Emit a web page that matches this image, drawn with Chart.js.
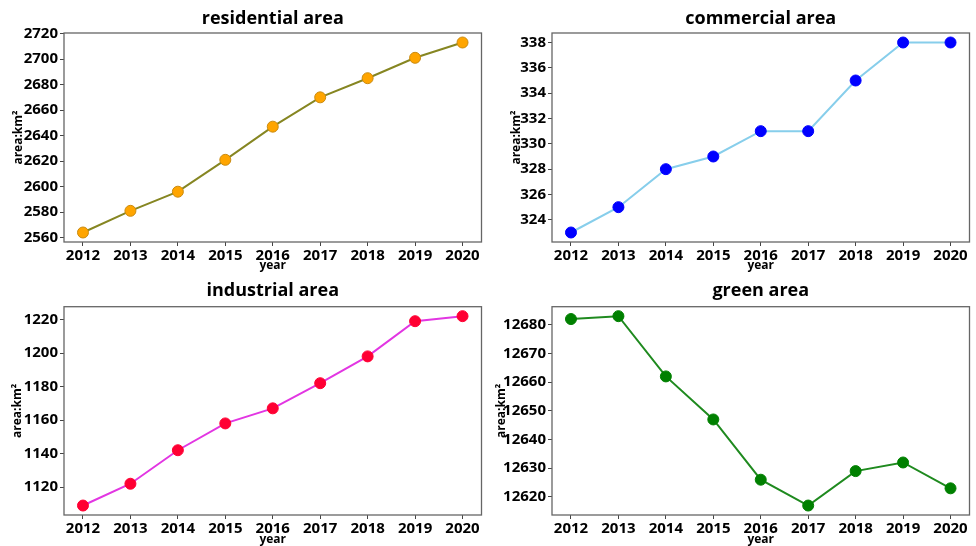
<!DOCTYPE html>
<html>
<head>
<meta charset="utf-8">
<script src="https://cdn.jsdelivr.net/npm/chart.js@4.4.1/dist/chart.umd.min.js"></script>
<style>
  html, body { margin: 0; padding: 0; background: #fff; }
  body { width: 976px; height: 546px; position: relative; overflow: hidden; }
  canvas { position: absolute; }
</style>
</head>
<body>
<canvas id="resChart"   width="488" height="272" style="left:0;top:0"></canvas>
<canvas id="comChart"   width="488" height="272" style="left:488px;top:0"></canvas>
<canvas id="indChart"   width="488" height="274" style="left:0;top:272px"></canvas>
<canvas id="greenChart" width="488" height="274" style="left:488px;top:272px"></canvas>
<script>
// ===== data =====
const years = [2012, 2013, 2014, 2015, 2016, 2017, 2018, 2019, 2020];

const residential = [2564, 2581, 2596, 2621, 2647, 2670, 2685, 2701, 2713];
const commercial  = [323, 325, 328, 329, 331, 331, 335, 338, 338];
const industrial  = [1109, 1122, 1142, 1158, 1167, 1182, 1198, 1219, 1222];
const green       = [12682, 12683, 12662, 12647, 12626, 12617, 12629, 12632, 12623];

// ===== tick labels =====
const resTicks   = [2560, 2580, 2600, 2620, 2640, 2660, 2680, 2700, 2720];
const comTicks   = [324, 326, 328, 330, 332, 334, 336, 338];
const indTicks   = [1120, 1140, 1160, 1180, 1200, 1220];
const greenTicks = [12620, 12630, 12640, 12650, 12660, 12670, 12680];

Chart.defaults.font.family = '"Open Sans", "Noto Sans", sans-serif';
Chart.defaults.font.weight = 'bold';
Chart.defaults.color = '#000';

// draw all four spines like matplotlib
const framePlugin = {
  id: 'frame',
  afterDraw(chart) {
    const { ctx, chartArea: a } = chart;
    ctx.save();
    ctx.strokeStyle = '#666';
    ctx.lineWidth = 1.3;
    ctx.strokeRect(a.left, a.top, a.right - a.left, a.bottom - a.top);
    ctx.restore();
  }
};

function makeChart(id, o) {
  const lo = Math.min(...o.values), hi = Math.max(...o.values);
  const m = (hi - lo) * 0.05;

  return new Chart(document.getElementById(id), {
    type: 'line',
    data: {
      datasets: [{
        data: years.map((y, i) => ({ x: y, y: o.values[i] })),
        borderColor: o.line,
        borderWidth: 2,
        pointRadius: 5.5,
        pointBackgroundColor: o.point,
        pointBorderColor: o.pointEdge || o.point,
        pointBorderWidth: 1,
        tension: 0
      }]
    },
    options: {
      responsive: false,
      animation: false,
      layout: { padding: { left: 0, right: o.rightPad, top: 0, bottom: 0 } },
      plugins: {
        legend: { display: false },
        tooltip: { enabled: false },
        title: {
          display: true,
          text: o.title,
          fullSize: false,
          font: { size: 18, weight: 'bold' },
          padding: { top: 8, bottom: o.titleBottom }
        }
      },
      scales: {
        x: {
          type: 'linear',
          min: 2011.6,
          max: 2020.4,
          afterBuildTicks: s => { s.ticks = years.map(v => ({ value: v })); },
          afterFit: s => { s.height = o.xHeight; },
          ticks: { font: { size: 15 }, padding: 1, maxRotation: 0, callback: v => String(v) },
          grid: { drawOnChartArea: false, drawTicks: true, tickLength: 4, tickColor: '#444' },
          border: { display: false },
          title: { display: true, text: 'year', font: { size: 12, lineHeight: 1 }, padding: 0 }
        },
        y: {
          min: lo - m,
          max: hi + m,
          afterBuildTicks: s => { s.ticks = o.ticks.map(v => ({ value: v })); },
          afterFit: s => { s.width = 64; },
          ticks: { font: { size: 15 }, padding: 2, callback: v => String(v) },
          grid: { drawOnChartArea: false, drawTicks: true, tickLength: 4, tickColor: '#444' },
          border: { display: false },
          title: { display: true, text: 'area:km²', font: { size: 12 }, padding: { top: o.yTitlePad, bottom: 0 } }
        }
      }
    },
    plugins: [framePlugin]
  });
}

// ===== four panels =====
makeChart('resChart', {
  title: 'residential area', values: residential, ticks: resTicks,
  line: '#868622', point: '#ffa500', pointEdge: '#c98a10',
  rightPad: 2, titleBottom: 3.4, xHeight: 30, yTitlePad: 11
});

makeChart('comChart', {
  title: 'commercial area', values: commercial, ticks: comTicks,
  line: '#87ceeb', point: '#0000ff',
  rightPad: 3, titleBottom: 3.4, xHeight: 30, yTitlePad: 21
});

makeChart('indChart', {
  title: 'industrial area', values: industrial, ticks: indTicks,
  line: '#e236e2', point: '#ff0033',
  rightPad: 1.5, titleBottom: 5.1, xHeight: 31, yTitlePad: 10
});

makeChart('greenChart', {
  title: 'green area', values: green, ticks: greenTicks,
  line: '#1f8a1f', point: '#008000',
  rightPad: 3, titleBottom: 5.1, xHeight: 31, yTitlePad: 6
});
</script>
</body>
</html>
